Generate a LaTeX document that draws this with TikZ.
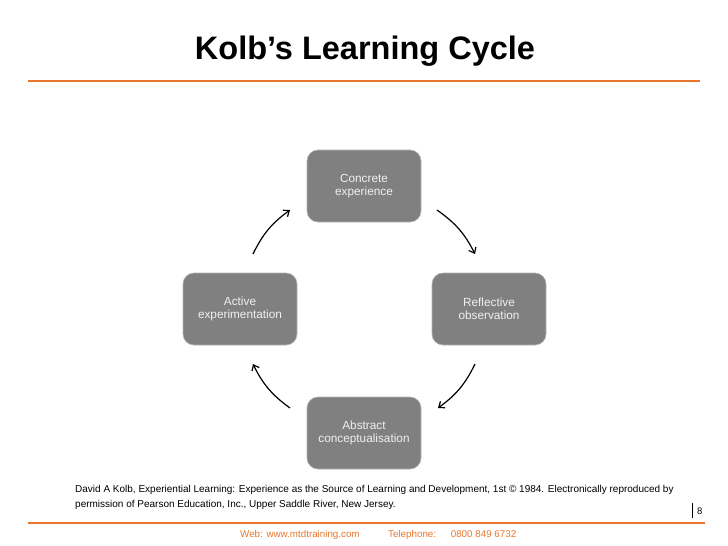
\documentclass[tikz,border=0pt]{standalone}
\usepackage{fontspec}
\setmainfont{Liberation Sans}
\usetikzlibrary{arrows.meta}
\definecolor{mtdorange}{HTML}{E8772E}
\definecolor{boxgray}{HTML}{808080}
\begin{document}
\begin{tikzpicture}[x=1pt,y=-1pt,
  stagebox/.style={fill=boxgray, draw=boxgray!60!white, line width=0.6pt, rounded corners=11pt,
    minimum width=114pt, minimum height=72pt, text=white!94!black, align=center,
    font=\fontsize{11.8}{13.5}\selectfont, inner sep=0pt},
  cyclearrow/.style={line width=1.2pt, -{Straight Barb[length=5pt,width=8pt]}, bend left=14},
  rule/.style={draw=mtdorange, line width=2.2pt},
  foot/.style={text=mtdorange, font=\fontsize{9.8}{12}\selectfont, inner sep=0pt, anchor=west}]
\useasboundingbox (0,0) rectangle (728,546);
\fill[white] (0,0) rectangle (728,546);
% title
\node[font=\bfseries\fontsize{32.5}{38}\selectfont, inner sep=0pt] (title) at (365,51) {Kolb’s Learning Cycle};
\coordinate (tl1) at (28,81);
\coordinate (tl2) at (700,81);
\draw[rule] (tl1) -- (tl2);
% stages
\node[stagebox] (conc) at (364,186) {Concrete\\experience};
\node[stagebox] (refl) at (489,309) {Reflective\\observation};
\node[stagebox] (abst) at (364,433) {Abstract\\conceptualisation};
\node[stagebox] (act)  at (240,309) {Active\\experimentation};
% arrows
\coordinate (a1s) at (253,254); \coordinate (a1e) at (290,210);
\coordinate (a2s) at (437,210); \coordinate (a2e) at (475,254);
\coordinate (a3s) at (475,364); \coordinate (a3e) at (438,408);
\coordinate (a4s) at (290,408); \coordinate (a4e) at (253,364);
\draw[cyclearrow] (a1s) to (a1e);
\draw[cyclearrow] (a2s) to (a2e);
\draw[cyclearrow] (a3s) to (a3e);
\draw[cyclearrow] (a4s) to (a4e);
% reference
\node[anchor=north west, align=left, inner sep=0pt, font=\fontsize{10}{15}\selectfont] (ref) at (75,485.5)
  {David A Kolb, Experiential Learning: Experience as the Source of Learning and Development, 1st © 1984. Electronically reproduced by\\
   permission of Pearson Education, Inc., Upper Saddle River, New Jersey.};
% page number
\coordinate (pb1) at (692,503);
\coordinate (pb2) at (692,518);
\draw[line width=0.9pt] (pb1) -- (pb2);
\node[font=\fontsize{9.5}{11}\selectfont, inner sep=0pt, anchor=west] (pnum) at (697,511) {8};
% bottom rule and footer
\coordinate (bl1) at (28,523);
\coordinate (bl2) at (705,523);
\draw[rule] (bl1) -- (bl2);
\node[foot] (web) at (240,535) {Web: www.mtdtraining.com};
\node[foot] (tel) at (388,535) {Telephone:\hspace{1.5em}0800 849 6732};
\end{tikzpicture}
\end{document}
